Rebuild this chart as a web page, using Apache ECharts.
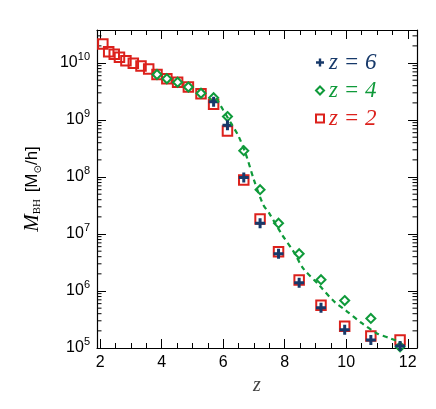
<!DOCTYPE html>
<html>
<head>
<meta charset="utf-8">
<script src="https://cdn.jsdelivr.net/npm/echarts@6/dist/echarts.min.js"></script>
<style>
  html, body { margin: 0; padding: 0; background: #fff; }
  #main { width: 436px; height: 409px; }
</style>
</head>
<body>
<div id="main"></div>
<script>
// redshift z of each snapshot, and black hole mass [Msun/h]
var zRed = [2.09, 2.28, 2.46, 2.63, 2.84, 3.08, 3.33, 3.58, 3.85, 4.17, 4.52, 4.87,
            5.28, 5.69, 6.14, 6.67, 7.2, 7.8, 8.47, 9.18, 9.95, 10.8, 11.75];
var mRed = [2.15e10, 1.58e10, 1.42e10, 1.26e10, 1.1e10, 9.9e9, 8.9e9, 7.9e9, 6.3e9, 5.3e9, 4.6e9, 3.8e9,
            2.9e9, 1.9e9, 6.4e8, 8.9e7, 1.83e7, 4.9e6, 1.56e6, 5.6e5, 2.4e5, 1.62e5, 1.38e5];

var zGreen = [3.85, 4.17, 4.52, 4.87, 5.28, 5.69, 6.14, 6.67, 7.2, 7.8, 8.47, 9.18, 9.95, 10.8, 11.75];
var mGreen = [6.3e9, 5.3e9, 4.6e9, 3.8e9, 2.95e9, 2.46e9, 1.15e9, 2.9e8, 6e7, 1.55e7, 4.5e6, 1.58e6,
              6.8e5, 3.3e5, 1.05e5];

var zBlue = [5.69, 6.14, 6.67, 7.2, 7.8, 8.47, 9.18, 9.95, 10.8, 11.75];
var mBlue = [2.1e9, 8.1e8, 9.8e7, 1.55e7, 4.5e6, 1.4e6, 5.1e5, 2.1e5, 1.38e5, 1.08e5];

// dashed curve (fit to z=4)
var zFit = [5.78, 6.0, 6.25, 6.5, 6.75, 7.0, 7.3, 7.5, 7.9, 8.3, 8.6, 9.1, 9.6, 10.0, 10.5, 11.0, 11.4, 11.75];
var mFit = [2.4e9, 1.5e9, 8.9e8, 5.2e8, 2.4e8, 8.9e7, 3.3e7, 2.3e7, 1.0e7, 4.8e6, 2.5e6, 1.3e6,
            6.6e5, 4.5e5, 2.75e5, 1.8e5, 1.5e5, 1.26e5];

var X_MIN = 1.9, X_MAX = 12.3;
var Y_MIN = 1e5, Y_MAX = 3.8e10;

var RED = '#dc211c';
var GREEN = '#0f9a3a';
var BLUE = '#17396a';

function pairs(xs, ys) {
  return xs.map(function (x, i) { return [x, ys[i]]; });
}

// minor ticks of the log axis (2..9 x 10^n)
var minorY = [];
for (var e = 5; e <= 10; e++) {
  for (var k = 2; k <= 9; k++) {
    var v = k * Math.pow(10, e);
    if (v < Y_MAX) minorY.push([X_MIN, v]);
  }
}

var chart = echarts.init(document.getElementById('main'));

var tickStyle = { color: '#000', width: 1 };

var option = {
  animation: false,
  grid: { left: 97, right: 19, top: 30, bottom: 61 },
  legend: {
    orient: 'vertical',
    left: 310,
    top: 46,
    itemWidth: 8,
    itemHeight: 8,
    itemGap: 5,
    itemTextGap: 12,
    textStyle: { fontFamily: 'Liberation Serif', fontStyle: 'italic', fontSize: 23 },
    data: [
      { name: 'z = 6', textStyle: { color: BLUE } },
      { name: 'z = 4', textStyle: { color: GREEN } },
      { name: 'z = 2', textStyle: { color: RED } }
    ]
  },
  xAxis: [{
    type: 'value',
    min: X_MIN,
    max: X_MAX,
    splitLine: { show: false },
    axisLine: { onZero: false, lineStyle: { color: '#000', width: 1.2 } },
    axisTick: { inside: true, length: 9, lineStyle: tickStyle },
    minorTick: { show: true, splitNumber: 4, length: 5, lineStyle: tickStyle },
    axisLabel: {
      color: '#000', fontFamily: 'Liberation Sans', fontSize: 16, margin: 7,
      showMinLabel: false, showMaxLabel: false
    },
    name: 'z',
    nameLocation: 'middle',
    nameGap: 26,
    nameTextStyle: { color: '#444', fontFamily: 'Liberation Serif', fontStyle: 'italic', fontSize: 20 }
  }, {
    type: 'value',
    position: 'top',
    min: X_MIN,
    max: X_MAX,
    splitLine: { show: false },
    axisLine: { onZero: false, lineStyle: { color: '#000', width: 1.2 } },
    axisTick: { inside: true, length: 9, lineStyle: tickStyle },
    minorTick: { show: true, splitNumber: 4, length: 5, lineStyle: tickStyle },
    axisLabel: { show: false }
  }],
  yAxis: [{
    type: 'log',
    logBase: 10,
    min: Y_MIN,
    max: Y_MAX,
    splitLine: { show: false },
    axisLine: { onZero: false, lineStyle: { color: '#000', width: 1.2 } },
    axisTick: { inside: true, length: 9, lineStyle: tickStyle },
    axisLabel: {
      margin: 7,
      formatter: function (val) {
        var lg = Math.log10(val);
        var n = Math.round(lg);
        if (Math.abs(lg - n) > 1e-6) return '';
        return '{b|10}{s|' + n + '}';
      },
      rich: {
        b: { fontFamily: 'Liberation Sans', fontSize: 16, color: '#000', lineHeight: 24 },
        s: { fontFamily: 'Liberation Sans', fontSize: 11, color: '#000', verticalAlign: 'top', lineHeight: 22 }
      }
    },
    name: '{m|M}{sub|BH}  {n|[M}{sun|\u2299}{n|/h]}',
    nameLocation: 'middle',
    nameGap: 54,
    nameTextStyle: {
      rich: {
        m: { fontFamily: 'Liberation Serif', fontStyle: 'italic', fontSize: 21, color: '#000' },
        sub: { fontFamily: 'Liberation Serif', fontSize: 11, color: '#000', verticalAlign: 'bottom', padding: [7, 0, 0, 0] },
        n: { fontFamily: 'Liberation Sans', fontSize: 17, color: '#000' },
        sun: { fontFamily: 'DejaVu Sans', fontSize: 10, color: '#000', verticalAlign: 'bottom', padding: [6, 0, 0, 0] }
      }
    }
  }, {
    type: 'log',
    logBase: 10,
    position: 'right',
    min: Y_MIN,
    max: Y_MAX,
    splitLine: { show: false },
    axisLine: { onZero: false, lineStyle: { color: '#000', width: 1.2 } },
    axisTick: { inside: true, length: 9, lineStyle: tickStyle },
    axisLabel: { show: false }
  }],
  series: [{
    type: 'custom',
    silent: true,
    data: minorY,
    renderItem: function (params, api) {
      var pl = api.coord([X_MIN, api.value(1)]);
      var pr = api.coord([X_MAX, api.value(1)]);
      return {
        type: 'group',
        children: [
          { type: 'line', shape: { x1: pl[0], y1: pl[1], x2: pl[0] + 4.5, y2: pl[1] }, style: { stroke: '#000', lineWidth: 1 } },
          { type: 'line', shape: { x1: pr[0], y1: pr[1], x2: pr[0] - 4.5, y2: pr[1] }, style: { stroke: '#000', lineWidth: 1 } }
        ]
      };
    }
  }, {
    name: 'fit',
    type: 'line',
    data: pairs(zFit, mFit),
    showSymbol: false,
    smooth: 0.3,
    silent: true,
    lineStyle: { color: GREEN, width: 2.2, type: [5, 4] }
  }, {
    name: 'z = 2',
    type: 'scatter',
    data: pairs(zRed, mRed),
    symbol: 'rect',
    symbolSize: 9.5,
    itemStyle: { color: 'rgba(255,255,255,0)', borderColor: RED, borderWidth: 2, opacity: 1 }
  }, {
    name: 'z = 4',
    type: 'scatter',
    data: pairs(zGreen, mGreen),
    symbol: 'diamond',
    symbolSize: 9,
    itemStyle: { color: 'rgba(255,255,255,0)', borderColor: GREEN, borderWidth: 2, opacity: 1 }
  }, {
    name: 'z = 6',
    type: 'scatter',
    data: pairs(zBlue, mBlue),
    symbol: 'path://M3.5,0H6.5V3.5H10V6.5H6.5V10H3.5V6.5H0V3.5H3.5Z',
    symbolSize: 10,
    itemStyle: { color: BLUE, opacity: 1 }
  }]
};

chart.setOption(option);
</script>
</body>
</html>
